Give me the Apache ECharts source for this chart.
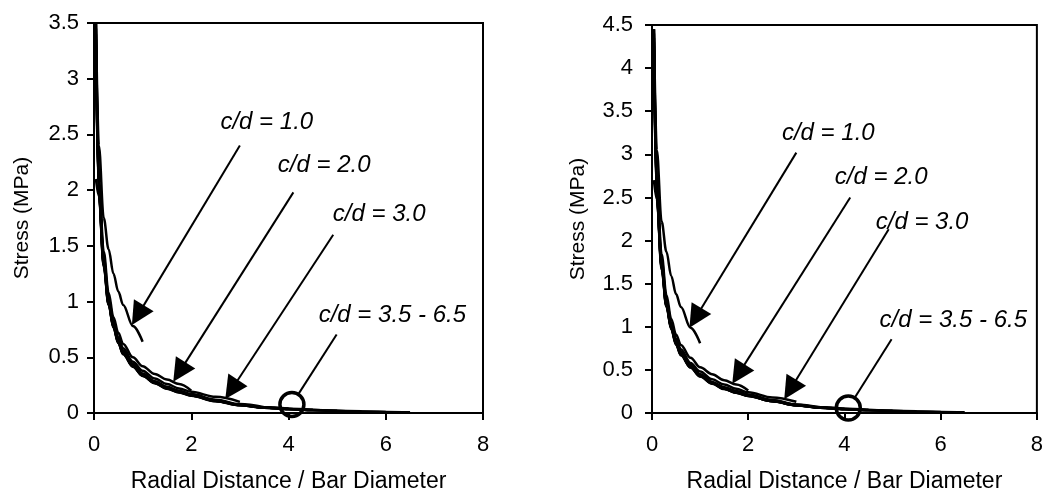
<!DOCTYPE html>
<html>
<head>
<meta charset="utf-8">
<script src="https://cdn.jsdelivr.net/npm/echarts@6/dist/echarts.min.js"></script>
<style>
  html, body { margin: 0; padding: 0; background: #fff; }
  #main { width: 1046px; height: 498px; }
</style>
</head>
<body>
<div id="main"></div>
<script>
// radial distance / bar diameter, shared by every curve
var radial = [0.04, 0.1, 0.2, 0.3, 0.4, 0.5, 0.6, 0.8, 1.0, 1.25, 1.5, 1.75, 2.0, 2.5, 3.0, 3.5, 4.0, 4.5, 5.0, 5.5, 6.0, 6.5];
var xTicks = [0, 2, 4, 6, 8];
var leftYTicks = [0, 0.5, 1, 1.5, 2, 2.5, 3, 3.5];
var rightYTicks = [0, 0.5, 1, 1.5, 2, 2.5, 3, 3.5, 4, 4.5];
var cdNames = ['c/d = 1.0', 'c/d = 2.0', 'c/d = 3.0', 'c/d = 3.5', 'c/d = 4.0', 'c/d = 4.5', 'c/d = 5.0', 'c/d = 5.5', 'c/d = 6.0', 'c/d = 6.5'];

// left panel, stress (MPa)
var leftCd10 = [3.5, 2.4, 1.75, 1.47, 1.25, 1.09, 0.97, 0.78, 0.64];
var leftCd20 = [3.5, 2.1, 1.45, 1.08, 0.86, 0.72, 0.62, 0.5, 0.42, 0.35, 0.3, 0.26, 0.2];
var leftCd30 = [3.5, 2.05, 1.4, 1.04, 0.82, 0.68, 0.58, 0.46, 0.38, 0.31, 0.26, 0.22, 0.19, 0.145, 0.1];
var leftCd35 = [3.45, 2.02, 1.37, 1.01, 0.8, 0.66, 0.56, 0.44, 0.355, 0.285, 0.235, 0.2, 0.17, 0.12, 0.08, 0.052];
var leftCd40 = [3.4, 2.0, 1.36, 1.0, 0.79, 0.65, 0.55, 0.435, 0.35, 0.28, 0.23, 0.195, 0.165, 0.115, 0.075, 0.052, 0.04];
var leftCd45 = [3.35, 1.99, 1.35, 0.99, 0.785, 0.645, 0.545, 0.43, 0.345, 0.277, 0.228, 0.193, 0.163, 0.113, 0.073, 0.05, 0.038, 0.029];
var leftCd50 = [3.3, 1.98, 1.34, 0.985, 0.78, 0.64, 0.54, 0.425, 0.34, 0.275, 0.225, 0.19, 0.16, 0.11, 0.072, 0.05, 0.037, 0.028, 0.021];
var leftCd55 = [3.25, 1.97, 1.33, 0.98, 0.775, 0.635, 0.535, 0.42, 0.337, 0.272, 0.222, 0.188, 0.158, 0.108, 0.071, 0.049, 0.036, 0.027, 0.02, 0.015];
var leftCd60 = [3.2, 1.96, 1.32, 0.975, 0.77, 0.63, 0.53, 0.418, 0.335, 0.27, 0.22, 0.186, 0.156, 0.107, 0.07, 0.048, 0.035, 0.026, 0.019, 0.014, 0.01];
var leftCd65 = [2.1, 1.95, 1.31, 0.97, 0.765, 0.625, 0.527, 0.415, 0.333, 0.268, 0.218, 0.184, 0.155, 0.106, 0.069, 0.047, 0.034, 0.025, 0.018, 0.013, 0.01, 0.007];

// right panel, stress (MPa)
var rightCd10 = [4.45, 3.05, 2.22, 1.87, 1.59, 1.38, 1.23, 0.99, 0.81];
var rightCd20 = [4.45, 2.67, 1.84, 1.37, 1.09, 0.91, 0.79, 0.64, 0.53, 0.45, 0.38, 0.33, 0.26];
var rightCd30 = [4.45, 2.6, 1.78, 1.32, 1.04, 0.86, 0.74, 0.58, 0.48, 0.39, 0.33, 0.28, 0.24, 0.18, 0.13];
var rightCd35 = [4.4, 2.56, 1.74, 1.28, 1.01, 0.84, 0.71, 0.56, 0.45, 0.36, 0.3, 0.255, 0.215, 0.152, 0.1, 0.066];
var rightCd40 = [4.35, 2.54, 1.72, 1.27, 1.0, 0.83, 0.7, 0.55, 0.445, 0.355, 0.292, 0.248, 0.21, 0.146, 0.095, 0.066, 0.05];
var rightCd45 = [4.3, 2.53, 1.71, 1.26, 0.995, 0.82, 0.69, 0.545, 0.44, 0.352, 0.29, 0.245, 0.207, 0.143, 0.093, 0.064, 0.048, 0.037];
var rightCd50 = [4.25, 2.52, 1.7, 1.25, 0.99, 0.81, 0.685, 0.54, 0.432, 0.35, 0.286, 0.241, 0.203, 0.14, 0.091, 0.063, 0.047, 0.036, 0.027];
var rightCd55 = [4.2, 2.5, 1.69, 1.245, 0.985, 0.805, 0.68, 0.533, 0.428, 0.346, 0.282, 0.239, 0.2, 0.137, 0.09, 0.062, 0.046, 0.034, 0.025, 0.019];
var rightCd60 = [4.1, 2.49, 1.68, 1.24, 0.98, 0.8, 0.673, 0.53, 0.425, 0.343, 0.28, 0.236, 0.198, 0.136, 0.089, 0.061, 0.044, 0.033, 0.024, 0.018, 0.013];
var rightCd65 = [2.7, 2.48, 1.66, 1.23, 0.97, 0.79, 0.67, 0.527, 0.423, 0.34, 0.277, 0.234, 0.197, 0.135, 0.088, 0.06, 0.043, 0.032, 0.023, 0.017, 0.012, 0.009];

var leftCurves = [leftCd10, leftCd20, leftCd30, leftCd35, leftCd40, leftCd45, leftCd50, leftCd55, leftCd60, leftCd65];
var rightCurves = [rightCd10, rightCd20, rightCd30, rightCd35, rightCd40, rightCd45, rightCd50, rightCd55, rightCd60, rightCd65];

// annotations, in data units: [from, tip]
var leftArrows = [[[3.0, 2.40], [0.78, 0.79]], [[4.10, 1.98], [1.63, 0.28]], [[4.92, 1.60], [2.70, 0.125]]];
var leftPointer = [[4.99, 0.705], [4.21, 0.174]];
var leftCircle = [4.07, 0.076];
var leftLabels = [[2.59, 2.61, 'c/d = 1.0'], [3.77, 2.22, 'c/d = 2.0'], [4.90, 1.78, 'c/d = 3.0'], [4.61, 0.875, 'c/d = 3.5 - 6.5']];

var rightArrows = [[[3.0, 3.02], [0.78, 0.99]], [[4.12, 2.50], [1.67, 0.34]], [[4.92, 2.13], [2.75, 0.16]]];
var rightPointer = [[4.98, 0.856], [4.22, 0.183]];
var rightCircle = [4.08, 0.057];
var rightLabels = [[2.69, 3.24, 'c/d = 1.0'], [3.79, 2.73, 'c/d = 2.0'], [4.64, 2.21, 'c/d = 3.0'], [4.72, 1.07, 'c/d = 3.5 - 6.5']];

var FONT = '"Liberation Sans", Arial, sans-serif';
var HEAD = 23;
var grids = [
  { left: 94, top: 23, width: 389, height: 391 },
  { left: 652, top: 25, width: 390, height: 393 }
];
var yTicks = [leftYTicks, rightYTicks];

function pairs(vals) {
  return vals.map(function (v, i) { return [radial[i], v]; });
}

// triangle is centred on the end point, so pull the end back by half a head
function arrow(from, tip, g, ymax) {
  var sx = grids[g].width / 8, sy = grids[g].height / ymax;
  var dx = (tip[0] - from[0]) * sx, dy = (tip[1] - from[1]) * sy;
  var len = Math.sqrt(dx * dx + dy * dy);
  var back = HEAD / 2;
  var end = [tip[0] - dx / len * back / sx, tip[1] - dy / len * back / sy];
  return [{ coord: from }, { coord: end }];
}

var xAxes = [], yAxes = [], series = [];
[0, 1].forEach(function (g) {
  var ticks = yTicks[g];
  var ymax = ticks[ticks.length - 1];
  xAxes.push({
    gridIndex: g, type: 'value', min: xTicks[0], max: xTicks[xTicks.length - 1], interval: 2,
    name: 'Radial Distance / Bar Diameter', nameLocation: 'middle', nameGap: 57,
    nameTextStyle: { color: '#000', fontSize: 23, fontFamily: FONT },
    axisLine: { lineStyle: { color: '#000', width: 2 } },
    axisTick: { inside: false, length: 7, lineStyle: { color: '#000', width: 2 } },
    axisLabel: { color: '#000', fontSize: 22, fontFamily: FONT, margin: 21 },
    splitLine: { show: false }
  });
  yAxes.push({
    gridIndex: g, type: 'value', min: 0, max: ymax, interval: 0.5,
    name: 'Stress (MPa)', nameLocation: 'middle', nameGap: g === 0 ? 61 : 63,
    nameTextStyle: { color: '#000', fontSize: 21, fontFamily: FONT },
    axisLine: { show: true, lineStyle: { color: '#000', width: 2 } },
    axisTick: { show: true, inside: false, length: 7, lineStyle: { color: '#000', width: 2 } },
    axisLabel: { color: '#000', fontSize: 22, fontFamily: FONT, margin: g === 0 ? 15 : 19 },
    splitLine: { show: false }
  });

  var curves = g === 0 ? leftCurves : rightCurves;
  curves.forEach(function (vals, i) {
    series.push({
      name: cdNames[i], type: 'line', xAxisIndex: g, yAxisIndex: g,
      data: pairs(vals), showSymbol: false, symbol: 'none',
      smooth: 0.35, smoothMonotone: 'x',
      lineStyle: { color: '#000', width: 2.5 },
      animation: false, silent: true
    });
  });

  var arrows = g === 0 ? leftArrows : rightArrows;
  var pointer = g === 0 ? leftPointer : rightPointer;
  var labels = g === 0 ? leftLabels : rightLabels;

  // labels + arrows
  series.push({
    type: 'scatter', xAxisIndex: g, yAxisIndex: g,
    data: labels.map(function (l) { return { value: [l[0], l[1]], name: l[2] }; }),
    symbolSize: 1, itemStyle: { color: 'rgba(0,0,0,0)', opacity: 1 },
    label: {
      show: true, position: 'right', distance: 0, formatter: '{b}', opacity: 1,
      color: '#000', fontSize: 24, fontStyle: 'italic', fontFamily: FONT
    },
    markLine: {
      silent: true, animation: false, label: { show: false },
      symbol: ['none', 'triangle'], symbolSize: HEAD,
      lineStyle: { color: '#000', width: 2, type: 'solid', opacity: 1 },
      itemStyle: { color: '#000' },
      emphasis: { disabled: true },
      data: arrows.map(function (a) { return arrow(a[0], a[1], g, ymax); })
    },
    animation: false, silent: true
  });

  // circle + its pointer line
  series.push({
    type: 'scatter', xAxisIndex: g, yAxisIndex: g,
    data: [g === 0 ? leftCircle : rightCircle],
    symbol: 'circle', symbolSize: 24,
    itemStyle: { color: 'rgba(0,0,0,0)', borderColor: '#000', borderWidth: 3.5, opacity: 1 },
    markLine: {
      silent: true, animation: false, label: { show: false },
      symbol: ['none', 'none'],
      lineStyle: { color: '#000', width: 2, type: 'solid', opacity: 1 },
      emphasis: { disabled: true },
      data: [[{ coord: pointer[0] }, { coord: pointer[1] }]]
    },
    animation: false, silent: true, z: 5
  });
});

var chart = echarts.init(document.getElementById('main'));
chart.setOption({
  backgroundColor: '#fff',
  animation: false,
  grid: grids.map(function (gr) {
    return { left: gr.left, top: gr.top, width: gr.width, height: gr.height, show: true, borderColor: '#000', borderWidth: 2, backgroundColor: 'transparent' };
  }),
  xAxis: xAxes,
  yAxis: yAxes,
  series: series
});
</script>
</body>
</html>
